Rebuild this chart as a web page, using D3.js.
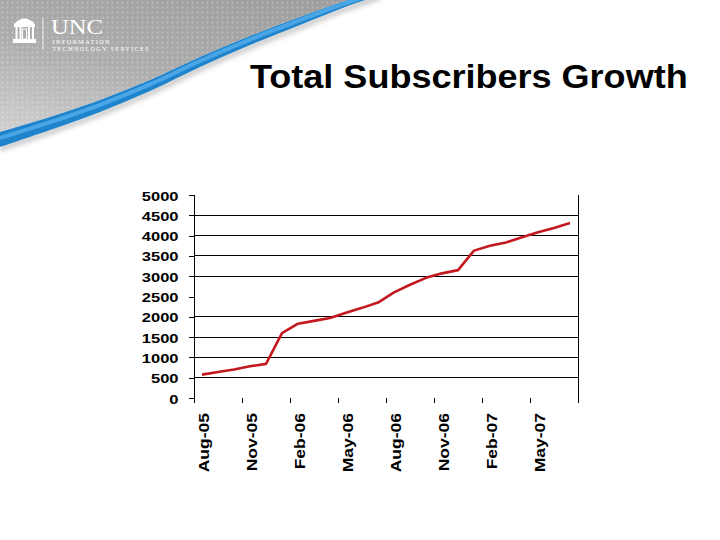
<!DOCTYPE html>
<html><head><meta charset="utf-8">
<script src="https://cdn.jsdelivr.net/npm/d3@7"></script>
<style>html,body{margin:0;padding:0;background:#fff;} svg{display:block}</style>
</head><body>
<svg id="c" width="720" height="540"></svg>
<script>
// ---- data ----
const months = ["Aug-05","Sep-05","Oct-05","Nov-05","Dec-05","Jan-06","Feb-06","Mar-06","Apr-06","May-06","Jun-06","Jul-06",
                "Aug-06","Sep-06","Oct-06","Nov-06","Dec-06","Jan-07","Feb-07","Mar-07","Apr-07","May-07","Jun-07","Jul-07"];
const subscribers = [575, 640, 700, 780, 840, 1600, 1830, 1900, 1970, 2100, 2220, 2350,
                     2600, 2790, 2960, 3070, 3150, 3630, 3750, 3830, 3960, 4080, 4190, 4310];
const yTicks = [0, 500, 1000, 1500, 2000, 2500, 3000, 3500, 4000, 4500, 5000];
const gridValues = [500, 1000, 1500, 2000, 3000, 3500, 4000, 4500];
const labelEvery = 3;
const titleText = "Total Subscribers Growth";
const logoLines = ["UNC", "INFORMATION", "TECHNOLOGY SERVICES"];

(function(){
const svg = d3.select("#c");
const FONT = "'Liberation Sans', Arial, Helvetica, sans-serif";

// ---- header decoration ----
const defs = svg.append("defs");
const g1 = defs.append("linearGradient").attr("id","grayG").attr("x1",0.7).attr("y1",0).attr("x2",0.1).attr("y2",1);
g1.append("stop").attr("offset","0%").attr("stop-color","#9e9e9e");
g1.append("stop").attr("offset","55%").attr("stop-color","#adadad");
g1.append("stop").attr("offset","100%").attr("stop-color","#cdcdcd");
const pat = defs.append("pattern").attr("id","dots").attr("width",5).attr("height",5).attr("patternUnits","userSpaceOnUse");
pat.append("circle").attr("cx",2.5).attr("cy",2.5).attr("r",0.9).attr("fill","#fff").attr("opacity",0.3);
defs.append("filter").attr("id","blur").append("feGaussianBlur").attr("stdDeviation",2.5);

const edgeTop = [[0,132],[50,117],[100,100],[150,80],[200,57],[250,36],[300,17],[345,1],[380,-10]];
const bw  = [15,13,12,11,10,9,8,6,5];
const edgeBot = edgeTop.map((p,i)=>[p[0], p[1]+bw[i]]);
const edgeMid = edgeTop.map((p,i)=>[p[0], p[1]+bw[i]*0.4]);
const cl = d3.line().curve(d3.curveCatmullRom);

svg.append("path").attr("d", cl(edgeTop) + "L0,-10Z").attr("fill","url(#grayG)");
svg.append("path").attr("d", cl(edgeTop) + "L0,-10Z").attr("fill","url(#dots)");
svg.append("path").attr("d", cl(edgeBot.map(p=>[p[0],p[1]+2]))).attr("fill","none")
   .attr("stroke","#c4c4c4").attr("stroke-width",5).attr("filter","url(#blur)");
svg.append("path").attr("d", cl(edgeTop) + "L" + cl(edgeBot.slice().reverse()).slice(1) + "Z").attr("fill","#1f84cc");
svg.append("path").attr("d", cl(edgeMid)).attr("fill","none").attr("stroke","#4aa6e6").attr("stroke-width",4);

// logo (Old Well)
const logo = svg.append("g").attr("fill","#fff");
logo.append("path").attr("d","M14,24 Q24.5,13 35,24 Z");
logo.append("rect").attr("x",14).attr("y",24).attr("width",21).attr("height",3);
[15.5,19.5,28,32].forEach(px=>logo.append("rect").attr("x",px).attr("y",27).attr("width",2).attr("height",12));
logo.append("rect").attr("x",22.5).attr("y",29).attr("width",4).attr("height",10).attr("fill","none").attr("stroke","#fff").attr("stroke-width",1);
logo.append("rect").attr("x",13).attr("y",39).attr("width",23).attr("height",4);
svg.append("line").attr("x1",43).attr("x2",43).attr("y1",18).attr("y2",50).attr("stroke","#fff").attr("stroke-opacity",0.8);
svg.append("text").attr("x",51).attr("y",34.3).attr("font-family","'Liberation Serif', 'Times New Roman', serif")
   .attr("font-size",22).attr("fill","#fff").attr("textLength",52).attr("lengthAdjust","spacingAndGlyphs").text(logoLines[0]);
svg.append("text").attr("x",52.5).attr("y",44.2).attr("font-family","'Liberation Serif', serif").attr("font-size",6.2)
   .attr("fill","#fff").attr("textLength",57).attr("lengthAdjust","spacing").text(logoLines[1]);
svg.append("text").attr("x",52.5).attr("y",50.5).attr("font-family","'Liberation Serif', serif").attr("font-size",6.2)
   .attr("fill","#fff").attr("textLength",96).attr("lengthAdjust","spacing").text(logoLines[2]);

// ---- title ----
svg.append("text").attr("transform","translate(250,87.5) scale(1.06,1)")
   .attr("font-family",FONT).attr("font-weight","bold").attr("font-size",34).attr("fill","#000").text(titleText);

// ---- chart ----
const x = d3.scaleBand().domain(months).range([194, 578]).paddingInner(0).paddingOuter(0);
const y = d3.scaleLinear().domain([0, 5000]).range([398, 195]);
const cx = m => x(m) + x.bandwidth()/2;

// gridlines
svg.append("g").selectAll("line").data(gridValues).join("line")
   .attr("x1",194).attr("x2",578).attr("y1",d=>y(d)).attr("y2",d=>y(d))
   .attr("stroke","#000").attr("stroke-width",1).attr("shape-rendering","crispEdges");

// y axis
const yAxis = svg.append("g").attr("transform","translate(194,0)")
   .call(d3.axisLeft(y).tickValues(yTicks).tickFormat(d3.format("d")).tickSize(5).tickSizeOuter(0));
yAxis.select(".domain").remove();
yAxis.selectAll(".tick line").attr("stroke","#000").attr("shape-rendering","crispEdges");
yAxis.selectAll(".tick text").attr("x",0).attr("dy","0.35em")
   .attr("transform","translate(-15.5,0.5) scale(1.27,1)")
   .attr("font-family",FONT).attr("font-weight","bold").attr("font-size",13).attr("fill","#000");

// axis frame lines
svg.append("line").attr("x1",194).attr("x2",194).attr("y1",y(5000)).attr("y2",403)
   .attr("stroke","#000").attr("shape-rendering","crispEdges");
svg.append("line").attr("x1",578).attr("x2",578).attr("y1",y(5000)).attr("y2",403)
   .attr("stroke","#000").attr("shape-rendering","crispEdges");

// x ticks at category boundaries every 3 months
const tickIdx = d3.range(0, months.length + 1, labelEvery);
svg.append("g").selectAll("line").data(tickIdx).join("line")
   .attr("x1",i=> i < months.length ? x(months[i]) : x.range()[1])
   .attr("x2",i=> i < months.length ? x(months[i]) : x.range()[1])
   .attr("y1",398).attr("y2",403).attr("stroke","#000").attr("shape-rendering","crispEdges");

// x labels
const labIdx = d3.range(0, months.length, labelEvery);
svg.append("g").selectAll("text").data(labIdx).join("text")
   .attr("transform",i=>`translate(${cx(months[i]) + 2.5},413) rotate(-90) scale(1.25,1)`)
   .attr("text-anchor","end").attr("dy","0.35em")
   .attr("font-family",FONT).attr("font-weight","bold").attr("font-size",14).attr("fill","#000")
   .text(i=>months[i]);

// data line
svg.append("path").datum(subscribers)
   .attr("d", d3.line().x((d,i)=>cx(months[i])).y(d=>y(d)))
   .attr("fill","none").attr("stroke","#c41820").attr("stroke-width",2.6).attr("stroke-linejoin","round");
})();
</script>
</body></html>
